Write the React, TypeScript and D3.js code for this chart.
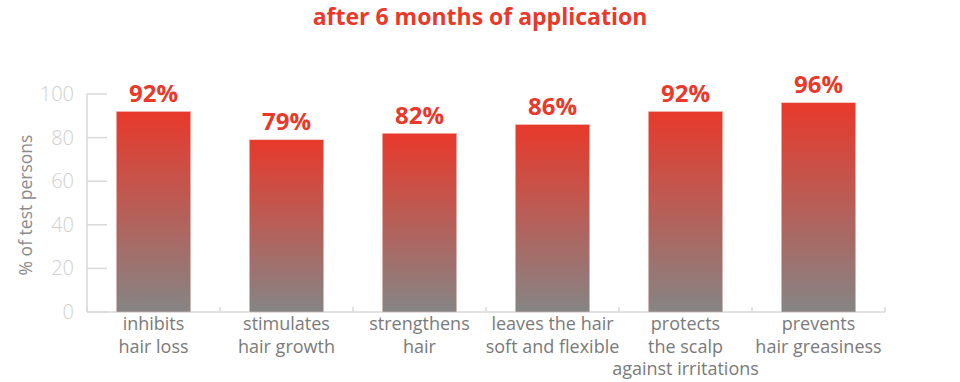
import React from "react";
import * as d3 from "d3";

const categories: string[][] = [
  ["inhibits", "hair loss"],
  ["stimulates", "hair growth"],
  ["strengthens", "hair"],
  ["leaves the hair", "soft and flexible"],
  ["protects", "the scalp", "against irritations"],
  ["prevents", "hair greasiness"],
];
const values: number[] = [92, 79, 82, 86, 92, 96];
const yTicks: number[] = [0, 20, 40, 60, 80, 100];
const title = "after 6 months of application";
const yTitle = "% of test persons";

const W = 960;
const H = 382;
const left = 87;
const right = 885;
const top = 94;
const bottom = 312;
const RED = "#e8392b";
const FONT = "'Open Sans', sans-serif";

export default function App() {
  const x = d3
    .scaleBand<number>()
    .domain(d3.range(categories.length))
    .range([left, right])
    .paddingInner(0.44)
    .paddingOuter(0.22);
  const y = d3.scaleLinear().domain([0, 100]).range([bottom, top]);
  const bandStart = (i: number) => left + i * ((right - left) / categories.length);

  return (
    <svg
      width={W}
      height={H}
      style={{ position: "absolute", left: 0, top: 0, display: "block" }}
    >
      <defs>
        <linearGradient id="barGrad" x1="0" y1="0" x2="0" y2="1">
          <stop offset="0%" stopColor="#e8392b" />
          <stop offset="100%" stopColor="#858585" />
        </linearGradient>
      </defs>
      <rect width={W} height={H} fill="#fff" />
      <text
        x={480}
        y={24.5}
        textAnchor="middle"
        fontFamily={FONT}
        fontWeight={700}
        fontSize={23}
        fill={RED}
      >
        {title}
      </text>

      {/* y axis */}
      <line x1={left} x2={left} y1={top} y2={bottom} stroke="#d9d9d9" strokeWidth={1.5} />
      {yTicks.map((t) => (
        <g key={t}>
          <line x1={left} x2={left + 20} y1={y(t)} y2={y(t)} stroke="#d9d9d9" strokeWidth={1.5} />
          <text
            x={74}
            y={y(t)}
            dy="0.35em"
            textAnchor="end"
            fontFamily={FONT}
            fontWeight={300}
            fontSize={20}
            fill="#cfcfcf"
          >
            {t}
          </text>
        </g>
      ))}
      <text
        transform={`translate(32, ${(top + bottom) / 2 + 2}) rotate(-90)`}
        textAnchor="middle"
        fontFamily={FONT}
        fontSize={17.5}
        fill="#8a8a8a"
      >
        {yTitle}
      </text>

      {/* x axis */}
      <line x1={left} x2={right} y1={bottom} y2={bottom} stroke="#d9d9d9" strokeWidth={1.5} />
      {d3.range(categories.length + 1).map((i) => (
        <line
          key={i}
          x1={bandStart(i)}
          x2={bandStart(i)}
          y1={bottom}
          y2={bottom - 5}
          stroke="#d9d9d9"
          strokeWidth={1.5}
        />
      ))}

      {values.map((v, i) => {
        const bx = x(i)!;
        const bw = x.bandwidth();
        return (
          <g key={i}>
            <rect
              x={bx}
              y={y(v)}
              width={bw}
              height={bottom - y(v)}
              fill="url(#barGrad)"
              stroke="#f3d0cc"
              strokeWidth={0.5}
            />
            <text
              x={bx + bw / 2}
              y={y(v) - 9.5}
              textAnchor="middle"
              fontFamily={FONT}
              fontWeight={700}
              fontSize={24}
              fill={RED}
            >
              {v}%
            </text>
            {categories[i].map((line, j) => (
              <text
                key={j}
                x={bx + bw / 2}
                y={330 + j * 22.5}
                textAnchor="middle"
                fontFamily={FONT}
                fontSize={18}
                fill="#7a7a7a"
              >
                {line}
              </text>
            ))}
          </g>
        );
      })}
    </svg>
  );
}
